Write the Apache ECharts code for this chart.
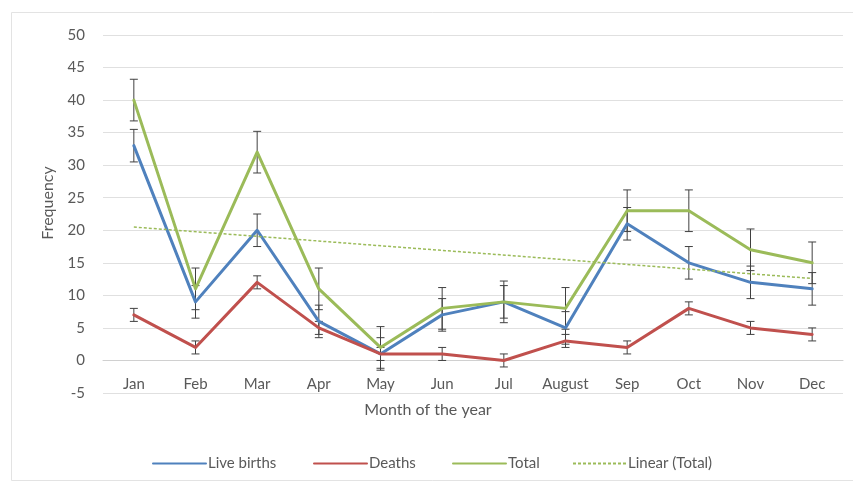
<!DOCTYPE html>
<html>
<head>
<meta charset="utf-8">
<script src="https://cdn.jsdelivr.net/npm/echarts@6/dist/echarts.min.js"></script>
<style>
  html, body { margin: 0; padding: 0; background: #fff; }
  #chart { width: 853px; height: 486px; }
</style>
</head>
<body>
<div id="chart"></div>
<script>
// Monthly frequencies
var months = ['Jan', 'Feb', 'Mar', 'Apr', 'May', 'Jun', 'Jul', 'August', 'Sep', 'Oct', 'Nov', 'Dec'];
var liveBirths = [33, 9, 20, 6, 1, 7, 9, 5, 21, 15, 12, 11];
var deaths = [7, 2, 12, 5, 1, 1, 0, 3, 2, 8, 5, 4];
var total = [40, 11, 32, 11, 2, 8, 9, 8, 23, 23, 17, 15];

// Standard error bars (same size on every point of a series)
var errLiveBirths = 2.5;
var errDeaths = 1.0;
var errTotal = 3.2;

// Linear trend of the total: values at the first and last month
var trendStart = 20.5;
var trendEnd = 12.6;

var yTicks = [-5, 0, 5, 10, 15, 20, 25, 30, 35, 40, 45, 50];
var legendNames = ['Live births', 'Deaths', 'Total', 'Linear (Total)'];

var BLUE = '#4F81BD', RED = '#C0504D', GREEN = '#9BBB59';
var FONT = 'Lato, "Liberation Sans", sans-serif';
var TEXT = '#595959';

var GRID_TOP = 35, GRID_BOTTOM = 93, HEIGHT = 486;
var pxPerUnit = (HEIGHT - GRID_TOP - GRID_BOTTOM) / (yTicks[yTicks.length - 1] - yTicks[0]);

function errorData(values, err) {
  return values.map(function (v, i) { return [i, v - err, v + err]; });
}

function errorSeries(name, values, err) {
  return {
    type: 'custom',
    name: name + ' err',
    silent: true,
    z: 3,
    data: errorData(values, err),
    encode: { x: 0, y: [1, 2] },
    renderItem: function (params, api) {
      var lo = api.coord([api.value(0), api.value(1)]);
      var hi = api.coord([api.value(0), api.value(2)]);
      var h = 4;
      var style = { stroke: '#404040', lineWidth: 1 };
      return {
        type: 'group',
        children: [
          { type: 'line', shape: { x1: lo[0], y1: lo[1], x2: hi[0], y2: hi[1] }, style: style },
          { type: 'line', shape: { x1: lo[0] - h, y1: lo[1], x2: lo[0] + h, y2: lo[1] }, style: style },
          { type: 'line', shape: { x1: hi[0] - h, y1: hi[1], x2: hi[0] + h, y2: hi[1] }, style: style }
        ]
      };
    }
  };
}

function lineSeries(name, values, color) {
  return {
    type: 'line',
    name: name,
    data: values,
    symbol: 'none',
    z: 3,
    lineStyle: { color: color, width: 3, join: 'round', cap: 'round' },
    itemStyle: { color: color }
  };
}

// one legend block per entry so each sits where it belongs
var legendLeft = [147, 308, 447, 567];
var legends = legendNames.map(function (n, i) {
  return {
    bottom: 10,
    left: legendLeft[i],
    itemWidth: 53,
    itemHeight: 10,
    itemStyle: { opacity: 0 },
    textStyle: { color: TEXT, fontSize: 15, fontFamily: FONT, padding: [0, 0, 0, -3] },
    data: [n]
  };
});

var chart = echarts.init(document.getElementById('chart'));
chart.setOption({
  animation: false,
  backgroundColor: '#fff',
  textStyle: { fontFamily: FONT },
  grid: { left: 103, right: 10, top: GRID_TOP, bottom: GRID_BOTTOM, containLabel: false },
  xAxis: {
    type: 'category',
    data: months,
    boundaryGap: true,
    // category axis sits on the zero line
    axisLine: { onZero: false, lineStyle: { color: '#d0d0d0', width: 1 } },
    offset: -(0 - yTicks[0]) * pxPerUnit,
    axisTick: { show: false },
    axisLabel: { color: TEXT, fontSize: 15, margin: 16, fontFamily: FONT }
  },
  yAxis: {
    type: 'value',
    min: yTicks[0],
    max: yTicks[yTicks.length - 1],
    interval: 5,
    axisLine: { show: false },
    axisTick: { show: false },
    axisLabel: { color: TEXT, fontSize: 15, margin: 18, fontFamily: FONT },
    splitLine: { lineStyle: { color: '#e0e0e0', width: 1 } }
  },
  legend: legends,
  graphic: [
    {
      type: 'rect',
      shape: { x: 11.5, y: 12.5, width: 860, height: 468 },
      style: { fill: 'none', stroke: '#e3e3e3', lineWidth: 1 },
      z: -10
    },
    {
      type: 'text',
      x: 428,
      y: 410,
      style: { text: 'Month of the year', fill: TEXT, font: '16px ' + FONT, align: 'center', verticalAlign: 'middle' }
    },
    {
      type: 'text',
      x: 48,
      y: 203,
      rotation: Math.PI / 2,
      style: { text: 'Frequency', fill: TEXT, font: '16px ' + FONT, align: 'center', verticalAlign: 'middle' }
    }
  ],
  series: [
    lineSeries('Live births', liveBirths, BLUE),
    errorSeries('Live births', liveBirths, errLiveBirths),
    lineSeries('Deaths', deaths, RED),
    errorSeries('Deaths', deaths, errDeaths),
    lineSeries('Total', total, GREEN),
    errorSeries('Total', total, errTotal),
    {
      type: 'line',
      name: 'Linear (Total)',
      data: [],
      symbol: 'none',
      z: 4,
      lineStyle: { color: GREEN, width: 1.5, type: [3, 2] },
      itemStyle: { color: GREEN },
      markLine: {
        silent: true,
        symbol: 'none',
        label: { show: false },
        lineStyle: { color: GREEN, width: 1.5, type: [3, 2] },
        data: [[{ coord: [months[0], trendStart] }, { coord: [months[months.length - 1], trendEnd] }]]
      }
    }
  ]
});
</script>
</body>
</html>
